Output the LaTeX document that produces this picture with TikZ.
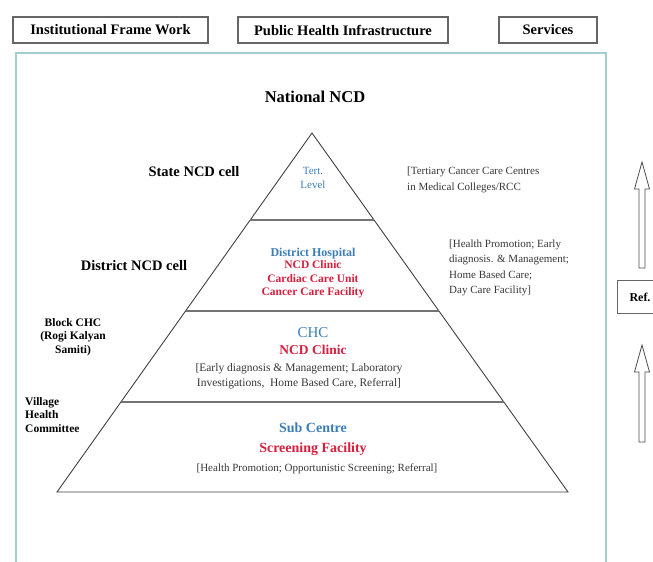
\documentclass[tikz,border=0pt]{standalone}
\usepackage{fontspec}
\setmainfont{Liberation Serif}
\usetikzlibrary{positioning,calc}

\definecolor{framecol}{RGB}{165,205,205}
\definecolor{lvlblue}{RGB}{60,125,185}
\definecolor{lvlred}{RGB}{215,30,60}
\definecolor{desccol}{RGB}{55,55,55}

\begin{document}
\begin{tikzpicture}[x=1pt,y=-1pt,
every node/.style={inner sep=0pt,align=center},
headbox/.style={draw=black!60,line width=1.2pt,minimum height=26pt,font=\fontsize{14.5}{16}\selectfont\bfseries},
cell/.style={font=\fontsize{14.5}{17}\selectfont\bfseries},
smallcell/.style={font=\fontsize{11.5}{13.5}\selectfont\bfseries},
desc/.style={text=desccol,font=\fontsize{11}{15.5}\selectfont},
pyr/.style={draw=black!75,line width=0.9pt},
layer/.style={draw=black!55,line width=2pt},
refarrow/.style={draw=black!70,line width=0.8pt}]
\useasboundingbox (0,0) rectangle (653,562);
\clip (0,0) rectangle (653,562);

% header boxes
\node[headbox,minimum width=195pt] (inst) at (110.5,30) {Institutional Frame Work};
\node[headbox,minimum width=210pt] (infra) at (343,30) {Public Health Infrastructure};
\node[headbox,minimum width=98pt] (serv) at (548,30) {Services};

% outer frame
\draw[framecol,line width=1.2pt] (16,562) |- (606,53) -- (606,562);

% pyramid
\coordinate (apex) at (312,133);
\coordinate (bl) at (57,492);
\coordinate (br) at (568,492);
\draw[pyr] (apex) -- (bl) -- (br) -- cycle;
\foreach \t in {0.242,0.496,0.749}
  \draw[layer] ($(apex)!\t!(bl)$) -- ($(apex)!\t!(br)$);

\node[font=\fontsize{16.5}{18}\selectfont\bfseries] (nat) at (315,97) {National NCD};

% state level
\node[cell] (state) at (194,172) {State NCD cell};
\node[text=lvlblue,font=\fontsize{11}{14}\selectfont] (tert) at (313,178) {Tert.\\Level};
\node[desc,align=left,anchor=west] (tertsrv) at (407,180) {[Tertiary Cancer Care Centres\\in Medical Colleges/RCC};

% district level
\node[cell] (dist) at (134,266) {District NCD cell};
\node[text=lvlblue,font=\fontsize{12}{13.5}\selectfont\bfseries] (dh) at (313,254) {District Hospital};
\node[text=lvlred,font=\fontsize{11.5}{13.5}\selectfont\bfseries,below=1pt of dh] (dhred) {NCD Clinic\\Cardiac Care Unit\\Cancer Care Facility};
\node[desc,align=left,anchor=west] (distsrv) at (449,268) {[Health Promotion; Early\\diagnosis. \& Management;\\Home Based Care;\\Day Care Facility]};

% block level
\node[smallcell] (block) at (73,337) {Block CHC\\(Rogi Kalyan\\Samiti)};
\node[text=lvlblue,font=\fontsize{15}{17}\selectfont] (chc) at (313,333) {CHC};
\node[text=lvlred,font=\fontsize{13.5}{15}\selectfont\bfseries] (chcred) at (313,350) {NCD Clinic};
\node[desc,font=\fontsize{11.5}{15}\selectfont] (chcsrv) at (299,376) {[Early diagnosis \& Management; Laboratory\\Investigations,\ \ Home Based Care, Referral]};

% village level
\node[smallcell,align=left,anchor=west] (vhc) at (25,415) {Village\\Health\\Committee};
\node[text=lvlblue,font=\fontsize{14}{17}\selectfont\bfseries] (sc) at (313,428) {Sub Centre};
\node[text=lvlred,font=\fontsize{14}{17}\selectfont\bfseries] (scred) at (313,449) {Screening Facility};
\node[desc] (scsrv) at (317,469) {[Health Promotion; Opportunistic Screening; Referral]};

% referral
\node[draw=black!60,line width=1pt,minimum height=33pt,minimum width=50pt,anchor=north west,align=left,text width=38pt,font=\fontsize{12}{13}\selectfont\bfseries] (ref) at (617,280) {\hspace*{6pt}Ref.};
\foreach \yt/\yb in {162/268,345/442}
  \draw[refarrow] (639,\yb) -- (639,\yt+27) -- (634.5,\yt+27) -- (642,\yt) -- (649.5,\yt+27) -- (645,\yt+27) -- (645,\yb) -- cycle;
\end{tikzpicture}
\end{document}
